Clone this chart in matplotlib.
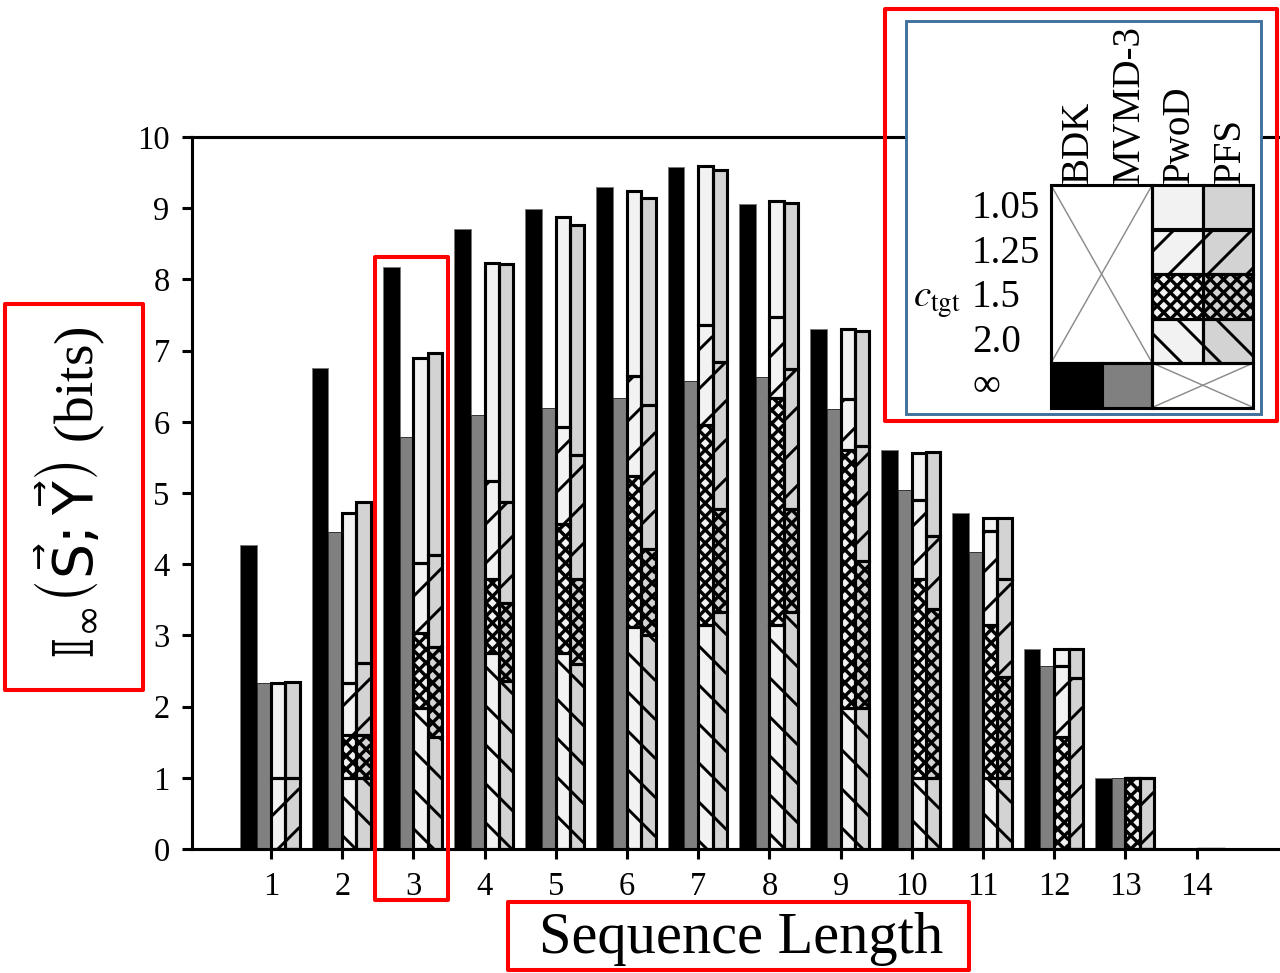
#Sequence length vs. information, BDK / MVMD-3 / PwoD / PFS
import matplotlib.pyplot as plt
import numpy as np
from matplotlib.patches import Rectangle
from matplotlib.collections import LineCollection

#--------Data--------
lengths = np.arange(1, 15)

bdk  = [4.27, 6.75, 8.17, 8.71, 8.99, 9.30, 9.58, 9.06, 7.31, 5.60, 4.72, 2.81, 1.00, 0]
mvmd = [2.33, 4.45, 5.79, 6.09, 6.20, 6.33, 6.58, 6.63, 6.18, 5.04, 4.17, 2.57, 1.00, 0]

#PwoD for each c_tgt
pwod_105 = [2.33, 4.72, 6.89, 8.23, 8.88, 9.24, 9.59, 9.10, 7.31, 5.56, 4.65, 2.81, 1.00, 0]
pwod_125 = [1.00, 2.33, 4.02, 5.17, 5.92, 6.65, 7.36, 7.47, 6.32, 4.90, 4.47, 2.57, 1.00, 0]
pwod_15  = [0.00, 1.60, 3.03, 3.79, 4.56, 5.24, 5.95, 6.34, 5.61, 3.79, 3.15, 1.58, 1.00, 0]
pwod_20  = [0.00, 1.00, 1.98, 2.75, 2.75, 3.12, 3.15, 3.15, 1.98, 1.00, 1.00, 0.00, 0.00, 0]

#PFS for each c_tgt
pfs_105 = [2.35, 4.87, 6.96, 8.21, 8.77, 9.14, 9.53, 9.08, 7.28, 5.58, 4.65, 2.81, 1.00, 0]
pfs_125 = [1.00, 2.61, 4.13, 4.87, 5.54, 6.24, 6.84, 6.74, 5.66, 4.40, 3.79, 2.40, 1.00, 0]
pfs_15  = [0.00, 1.60, 2.84, 3.46, 3.79, 4.22, 4.78, 4.78, 4.05, 3.37, 2.42, 0.00, 0.00, 0]
pfs_20  = [0.00, 1.00, 1.57, 2.36, 2.60, 3.00, 3.33, 3.33, 1.98, 1.00, 1.00, 0.00, 0.00, 0]

ctgt_labels = ["1.05", "1.25", "1.5", "2.0", "\u221e"]
method_names = ["BDK", "MVMD-3", "PwoD", "PFS"]
#-------------------------------------------

DPI = 234
W, H = 1280, 973
plt.rcParams['font.family'] = ['Liberation Serif', 'DejaVu Serif']
plt.rcParams['mathtext.fontset'] = 'stix'

LW = 0.95
PxPerUnit = 71.2          #same in x and y for the main axes
LinePeriod = 39.0         #px, '/' and '\' hatches
CrossPeriod = 13.3        #px, crosshatch

def AddHatch(Axis, Patch, Kind, Period, Lw, Flip=False):
    """Draw sparse hatch lines clipped to a rectangle patch."""
    x0, y0 = Patch.get_x(), Patch.get_y()
    w, h = Patch.get_width(), Patch.get_height()
    if h == 0 or Kind == '':
        return
    Segs = []
    for s in {'/': [1], '\\': [-1], 'x': [1, -1]}[Kind]:
        if Flip:
            s = -s
        Cs = [yy - s*xx for xx in (x0, x0+w) for yy in (y0, y0+h)]
        for k in range(int(np.floor(min(Cs)/Period)), int(np.ceil(max(Cs)/Period))+1):
            c = k*Period
            Segs.append([(x0, s*x0+c), (x0+w, s*(x0+w)+c)])
    Lc = LineCollection(Segs, colors='black', linewidths=Lw, zorder=Patch.get_zorder()+0.1)
    Axis.add_collection(Lc, autolim=False)
    Lc.set_clip_path(Patch)

fig = plt.figure(figsize=(W/DPI, H/DPI), dpi=DPI)
ax = fig.add_axes([192/W, 1-849/H, 1-192/W, (849-137)/H])

ax.bar(lengths-0.43, bdk, width=0.235, align='edge', color='black', edgecolor='#777777', linewidth=0.3)
ax.bar(lengths-0.195, mvmd, width=0.195, align='edge', color='#808080', edgecolor='#333333', linewidth=0.3)

Hatches = ['\\', 'x', '/', '']   #c=2.0, 1.5, 1.25, 1.05
for Off, Face, Levels in [(0.0, '#f2f2f2', [pwod_20, pwod_15, pwod_125, pwod_105]),
                          (0.2, '#d3d3d3', [pfs_20, pfs_15, pfs_125, pfs_105])]:
    Bottom = np.zeros(len(lengths))
    for Top, Hatch in zip(Levels, Hatches):
        Top = np.array(Top)
        Bars = ax.bar(lengths+Off, Top-Bottom, bottom=Bottom, width=0.2, align='edge',
                      color=Face, edgecolor='none', zorder=1)
        for P in Bars.patches:
            if Hatch == 'x':
                AddHatch(ax, P, 'x', CrossPeriod/PxPerUnit, 1.05)
            else:
                AddHatch(ax, P, Hatch, LinePeriod/PxPerUnit, 0.9)
        ax.bar(lengths+Off, Top-Bottom, bottom=Bottom, width=0.2, align='edge',
               fill=False, edgecolor='black', linewidth=LW, zorder=1.3)
        Bottom = Top

ax.set_xlim(-0.11, 15.17)
ax.set_ylim(0, 10)
ax.set_xticks(lengths)
ax.set_yticks(range(0, 11))
ax.spines['right'].set_visible(False)
for s in ['top', 'left', 'bottom']:
    ax.spines[s].set_linewidth(LW)
ax.tick_params(direction='out', length=3.1, width=LW, labelsize=10, pad=3.8)

fig.text(741/W, 1-953/H, 'Sequence Length', ha='center', va='baseline', fontsize=18)
fig.text(70/W, 1-493/H, r'$\mathrm{𝕀}_{\infty}\left(\vec{\mathrm{S}};\vec{\mathrm{Y}}\right)$ (bits)',
         rotation=90, ha='center', va='center', fontsize=17, math_fontfamily='dejavusans')

#---overlay in pixel coords: legend table and red boxes---
ov = fig.add_axes([0, 0, 1, 1], facecolor='none')
ov.set_xlim(0, W)
ov.set_ylim(H, 0)
ov.axis('off')

ov.add_patch(Rectangle((906, 21), 355, 393, facecolor='white', edgecolor='#41719c', linewidth=0.9))

LX0, LY0, CW, RH = 1051, 185, 50.6, 44.5
GrayX = '#8c8c8c'
def Cell(c, r, nc=1, nr=1, **kw):
    return ov.add_patch(Rectangle((LX0+c*CW, LY0+r*RH), nc*CW, nr*RH, **kw))
def CrossLines(c, r, nc, nr):
    x0, x1 = LX0+c*CW, LX0+(c+nc)*CW
    y0, y1 = LY0+r*RH, LY0+(r+nr)*RH
    ov.plot([x0, x1], [y0, y1], color=GrayX, lw=0.45, zorder=1.5)
    ov.plot([x0, x1], [y1, y0], color=GrayX, lw=0.45, zorder=1.5)

LegHatches = ['', '/', 'x', '\\']
for r in range(4):
    for c, Face in [(2, '#f2f2f2'), (3, '#d3d3d3')]:
        P = Cell(c, r, facecolor=Face, edgecolor='none', zorder=1)
        if LegHatches[r] == 'x':
            AddHatch(ov, P, 'x', CrossPeriod, 1.05, Flip=True)
        else:
            AddHatch(ov, P, LegHatches[r], LinePeriod, 0.9, Flip=True)
        Cell(c, r, fill=False, edgecolor='black', linewidth=LW, zorder=2)
Cell(0, 0, 2, 4, facecolor='white', edgecolor='none', zorder=1)
CrossLines(0, 0, 2, 4)
Cell(0, 0, 2, 4, fill=False, edgecolor='black', linewidth=LW, zorder=2)
Cell(0, 4, facecolor='black', edgecolor='black', linewidth=LW, zorder=2)
Cell(1, 4, facecolor='#808080', edgecolor='black', linewidth=LW, zorder=2)
Cell(2, 4, 2, 1, facecolor='white', edgecolor='none', zorder=1)
CrossLines(2, 4, 2, 1)
Cell(2, 4, 2, 1, fill=False, edgecolor='black', linewidth=LW, zorder=2)

for i, Name in enumerate(method_names):
    ov.text(LX0+(i+0.5)*CW+2, 183, Name, rotation=90, ha='center', va='bottom', fontsize=12)
for i, Lab in enumerate(ctgt_labels):
    ov.text(972, LY0+(i+0.5)*RH+11, Lab, ha='left', va='baseline', fontsize=12)
ov.text(913, LY0+2.5*RH+11, r'$c_{\mathrm{tgt}}$', ha='left', va='baseline', fontsize=12)

#red highlight boxes
for (x0, y0, x1, y1) in [(885, 9, 1277, 421), (5, 304, 143, 690), (375, 257, 448, 900), (508, 902, 969, 970)]:
    ov.add_patch(Rectangle((x0, y0), x1-x0, y1-y0, fill=False, edgecolor='#ff0000',
                           linewidth=1.25, joinstyle='round', zorder=5))

fig.savefig('out.png', dpi=DPI)
